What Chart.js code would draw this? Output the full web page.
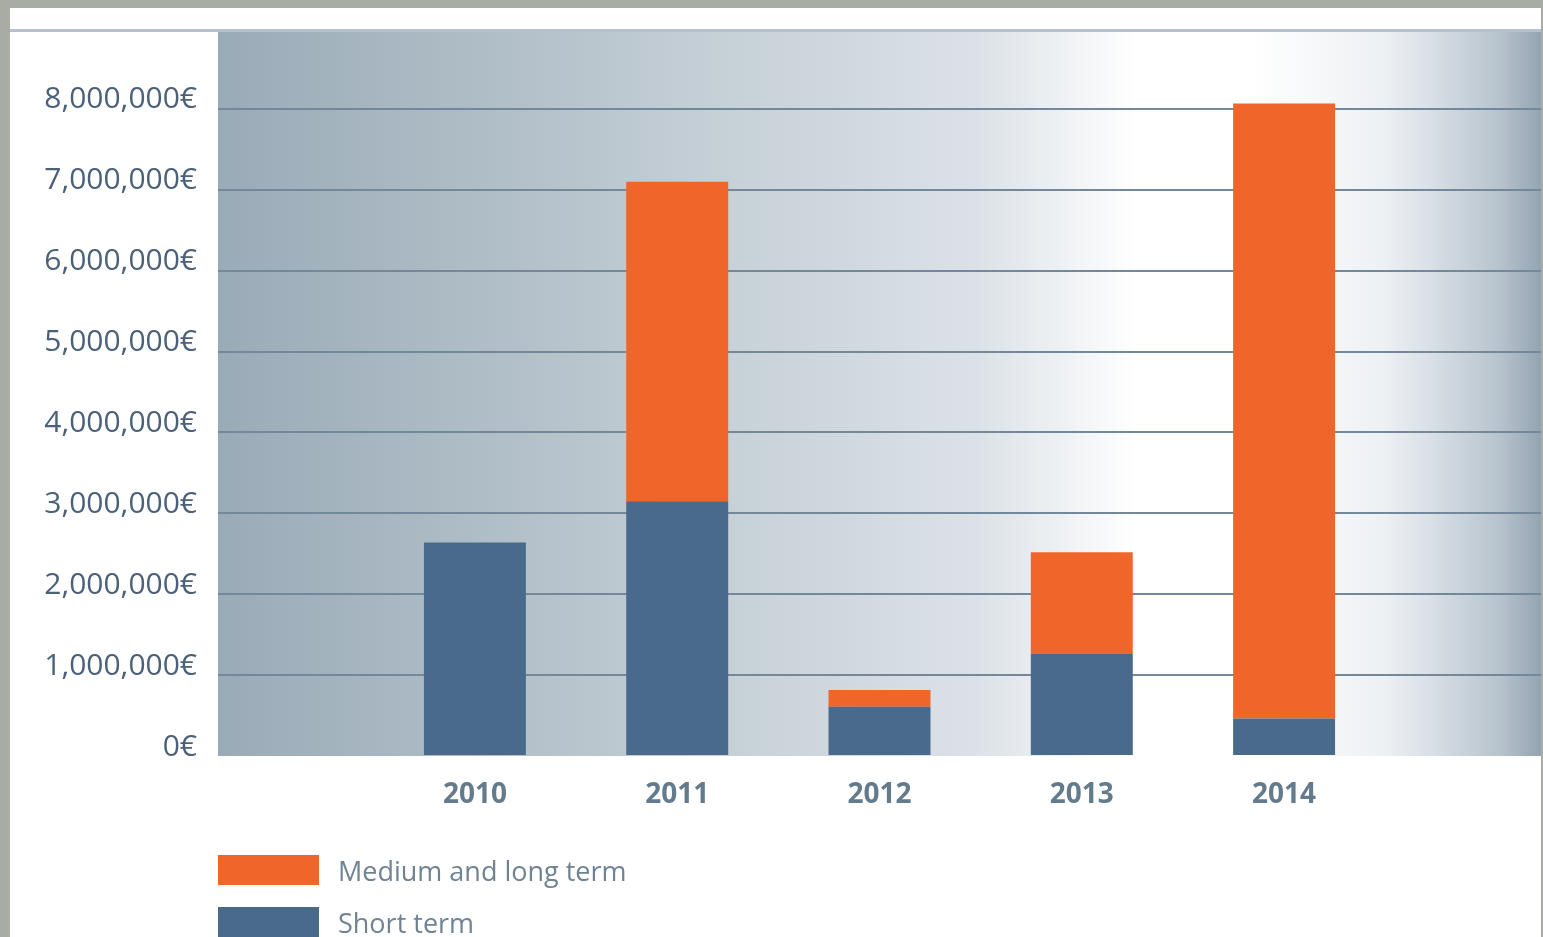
<!DOCTYPE html>
<html>
<head>
<meta charset="utf-8">
<script src="https://cdn.jsdelivr.net/npm/chart.js@4/dist/chart.umd.min.js"></script>
<style>
  html, body { margin: 0; padding: 0; background: #a9aca4; overflow: hidden; }
  #wrap { position: relative; width: 1543px; height: 937px; }
  #legend { position: absolute; left: 218px; top: 855px; font-family: "Open Sans", sans-serif; font-size: 27px; color: #6f8394; }
  #legend .item { display: flex; align-items: center; height: 30px; margin-bottom: 22px; white-space: nowrap; }
  #legend .box { width: 101px; height: 30px; margin-right: 19px; }
</style>
</head>
<body>
<div id="wrap">
  <canvas id="_canvasc" width="1543" height="937"></canvas>
  <div id="legend"></div>
</div>
<script>
	// ******************************************************** DATA

	var years      = [2010, 2011, 2012, 2013, 2014];
	var shortTerm  = [2640000, 3150000, 610000, 1260000, 465000];
	var mediumLong = [0, 3950000, 205000, 1260000, 7600000];
	var yTicks     = [0, 1000000, 2000000, 3000000, 4000000, 5000000, 6000000, 7000000, 8000000];

	function pts(vals) {
		return years.map(function (y, i) { return { x: y, y: vals[i] }; });
	}

	// panel, top rule and gradient behind the plot
	var backdrop = {
		id: 'backdrop',
		beforeDraw: function (chart) {
			var ctx = chart.ctx, a = chart.chartArea;
			ctx.save();
			ctx.fillStyle = '#a9aca4';
			ctx.fillRect(0, 0, chart.width, chart.height);
			ctx.fillStyle = '#ffffff';
			ctx.fillRect(10, 8, a.right - 10, chart.height - 8);
			ctx.fillStyle = '#b6c1d0';
			ctx.fillRect(10, 29, a.right - 10, 3);
			var g = ctx.createLinearGradient(a.left, 0, a.right, 0);
			g.addColorStop(0, '#9aabb8');
			g.addColorStop(0.187, '#aebcc5');
			g.addColorStop(0.379, '#c6d0d7');
			g.addColorStop(0.572, '#dbe1e7');
			g.addColorStop(0.695, '#ffffff');
			g.addColorStop(0.78, '#ffffff');
			g.addColorStop(0.88, '#eef1f4');
			g.addColorStop(0.926, '#d3dbe2');
			g.addColorStop(0.97, '#b6c2cc');
			g.addColorStop(1, '#93a4b2');
			ctx.fillStyle = g;
			ctx.fillRect(a.left, a.top, a.right - a.left, a.bottom - a.top);
			ctx.restore();
		}
	};

	// legend as html, listed top-down (reverse of stack order)
	var htmlLegend = {
		id: 'htmlLegend',
		afterUpdate: function (chart) {
			var box = document.getElementById('legend');
			box.innerHTML = '';
			chart.data.datasets.slice().reverse().forEach(function (ds) {
				var it = document.createElement('div');
				it.className = 'item';
				var sw = document.createElement('span');
				sw.className = 'box';
				sw.style.background = ds.backgroundColor;
				var tx = document.createElement('span');
				tx.textContent = ds.label;
				it.appendChild(sw);
				it.appendChild(tx);
				box.appendChild(it);
			});
		}
	};

	var config = {
		type: 'bar',
		data: {
			datasets: [{
				label: 'Short term',
				data: pts(shortTerm),
				backgroundColor: '#496a8b'
			}, {
				label: 'Medium and long term',
				data: pts(mediumLong),
				backgroundColor: '#f0652a'
			}]
		},
		options: {
			responsive: false,
			animation: false,
			barPercentage: 0.504,
			categoryPercentage: 1,
			layout: { padding: { left: 0, right: 2, top: 32, bottom: 0 } },
			plugins: {
				legend: { display: false },
				tooltip: { enabled: false }
			},
			scales: {
				x: {
					type: 'linear',
					stacked: true,
					offset: false,
					min: 2008.73,
					max: 2015.27,
					border: { display: false },
					grid: { display: false },
					afterBuildTicks: function (s) { s.ticks = years.map(function (v) { return { value: v }; }); },
					afterFit: function (s) { s.height = 181; s.paddingLeft = 0; s.paddingRight = 0; },
					ticks: {
						padding: 14,
						maxRotation: 0,
						autoSkip: false,
						color: '#647b8d',
						font: { family: 'Open Sans', size: 28, weight: 'bold' },
						callback: function (v) { return String(v); }
					}
				},
				y: {
					stacked: true,
					min: 0,
					max: 8950000,
					border: { display: false },
					afterBuildTicks: function (s) { s.ticks = yTicks.map(function (v) { return { value: v }; }); },
					afterFit: function (s) { s.width = 218; s.paddingTop = 0; s.paddingBottom = 0; },
					grid: {
						drawTicks: false,
						lineWidth: 2,
						color: function (c) { return c.tick && c.tick.value === 0 ? 'rgba(0,0,0,0)' : '#74889b'; }
					},
					ticks: {
						padding: 21,
						labelOffset: -9,
						color: '#4b6179',
						font: { family: 'Open Sans', size: 30 },
						callback: function (v) { return v.toLocaleString('en-US') + '€'; }
					}
				}
			}
		},
		plugins: [backdrop, htmlLegend]
	};

	// ******************************************************** CHART

	var _ctxc = document.getElementById("_canvasc").getContext("2d");
	window.myBars = new Chart(_ctxc, config);
</script>
</body>
</html>
